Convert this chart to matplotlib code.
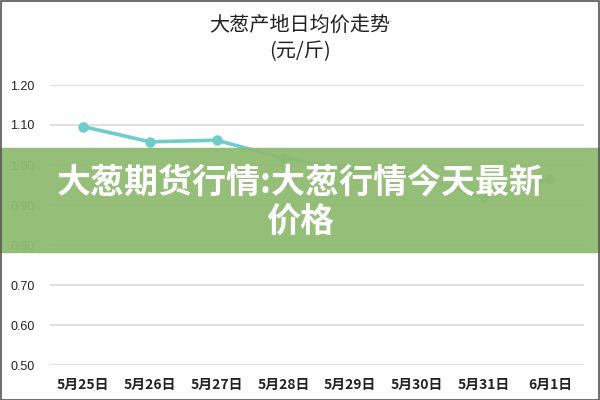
import matplotlib.pyplot as plt
from matplotlib.patches import Rectangle

plt.rcParams['font.family'] = ['Noto Sans CJK SC', 'DejaVu Sans']

# 日期与价格 (元/斤)
dates = ['5月25日', '5月26日', '5月27日', '5月28日', '5月29日', '5月30日', '5月31日', '6月1日']
prices = [1.096, 1.058, 1.062, 1.017, 0.99, 0.97, 0.92, 0.965]
yticks = [0.50, 0.60, 0.70, 0.80, 0.90, 1.00, 1.10, 1.20]

fig = plt.figure(figsize=(6, 4), dpi=100)
ax = fig.add_axes([0.083, 0.0875, 0.89, 0.70])

x = range(len(dates))
ax.plot(x, prices, color='#6dcdc8', lw=2.6, marker='o', ms=6.5, zorder=3)

ax.set_xlim(-0.5, len(dates) - 0.5)
ax.set_ylim(0.5, 1.2)
ax.set_yticks(yticks)
ax.set_yticklabels([f'{v:.2f}' for v in yticks], family=['Liberation Sans', 'DejaVu Sans'])
ax.set_xticks(list(x))
ax.set_xticklabels(dates, fontweight='bold', fontsize=10)
ax.tick_params(axis='both', length=0, colors='#222222')
ax.tick_params(axis='y', labelsize=9, pad=11)
ax.tick_params(axis='x', pad=9)
ax.grid(axis='y', color='#d9d9d9', lw=1.2)
ax.set_axisbelow(True)
for s in ax.spines.values():
    s.set_visible(False)

# 标题
fig.text(0.5, 0.937, '大葱产地日均价走势', ha='center', va='center', fontsize=14.5, color='#222222')
fig.text(0.5, 0.870, '(元/斤)', ha='center', va='center', fontsize=14.5, color='#222222')

# 绿色横幅
fig.patches.append(Rectangle((0, 0.37), 1, 0.26, transform=fig.transFigure,
                             color='#8fbb72', alpha=0.95, zorder=5))
fig.text(0.5, 0.546, '大葱期货行情:大葱行情今天最新', ha='center', va='center',
         fontsize=24.5, fontweight='heavy', color='white', zorder=6)
fig.text(0.5, 0.446, '价格', ha='center', va='center',
         fontsize=24.5, fontweight='heavy', color='white', zorder=6)

# 外框
fig.patches.append(Rectangle((0.001, 0.001), 0.997, 0.997, transform=fig.transFigure,
                             fill=False, edgecolor='#555555', lw=1.2, zorder=7))

plt.savefig('out.png')
